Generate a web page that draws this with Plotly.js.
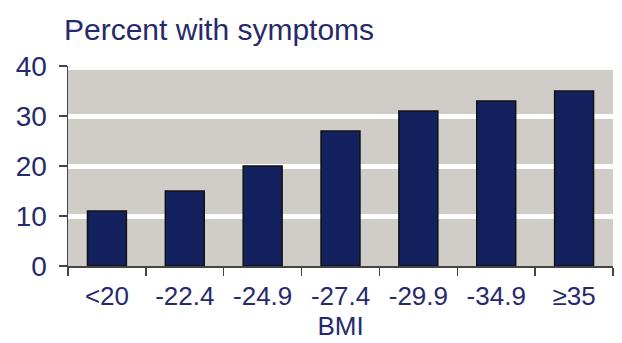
<!DOCTYPE html>
<html><head><meta charset="utf-8">
<script src="https://cdn.plot.ly/plotly-3.0.1.min.js"></script>
<style>html,body{margin:0;padding:0;background:#fff;}#chart{width:622px;height:343px;}</style>
</head><body><div id="chart"></div>
<script>
var categories = ["<20", "-22.4", "-24.9", "-27.4", "-29.9", "-34.9", "≥35"];
var percentWithSymptoms = [11, 15, 20, 27, 31, 33, 35];
var yTicks = [0, 10, 20, 30, 40];
var navy = "#262a6b";
var trace = {
  type: "bar", x: categories, y: percentWithSymptoms,
  marker: {color: "#14215f", line: {color: "#111", width: 1.5}},
  hoverinfo: "none"
};
var layout = {
  width: 622, height: 343,
  margin: {l: 68, r: 9, t: 66, b: 77},
  paper_bgcolor: "#fff", plot_bgcolor: "#fff",
  font: {family: "Liberation Sans, Arial, sans-serif", color: navy, size: 26},
  bargap: 0.5,
  showlegend: false,
  title: {text: "Percent with symptoms", x: 64/622, xref: "container", xanchor: "left",
          y: 1 - 29/343, yref: "container", yanchor: "middle",
          font: {size: 30, color: navy}},
  shapes: [{type: "rect", xref: "paper", yref: "y", x0: 0, x1: 1, y0: 0, y1: 39.2,
            fillcolor: "#d0cdc9", line: {width: 0}, layer: "below"}],
  xaxis: {type: "category", tickson: "boundaries", ticks: "outside", ticklen: 8,
          tickcolor: "#444", tickwidth: 1.5, showline: true, linecolor: "#444", linewidth: 1.5,
          showgrid: false, tickfont: {size: 26, color: navy}, ticklabelstandoff: 6,
          title: {text: "BMI", standoff: 0, font: {size: 26, color: navy}}},
  yaxis: {range: [0, 40], tickvals: yTicks, ticks: "outside", ticklen: 8,
          tickcolor: "#444", tickwidth: 1.5, showline: true, linecolor: "#444", linewidth: 1.5,
          showgrid: true, gridcolor: "#fff", gridwidth: 5, zeroline: false,
          layer: "below traces",
          ticklabelstandoff: 6, tickfont: {size: 28, color: navy}}
};
Plotly.newPlot("chart", [trace], layout, {staticPlot: true});
</script></body></html>
